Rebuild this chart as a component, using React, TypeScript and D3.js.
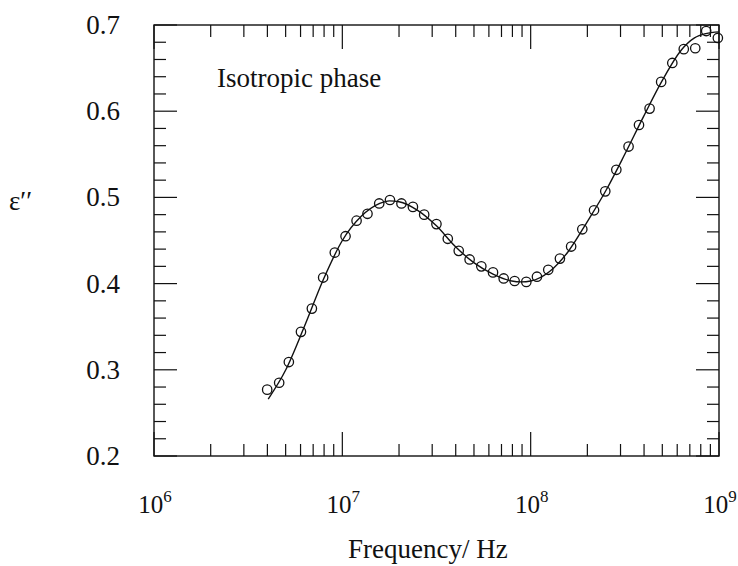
import React from "react";
import * as d3 from "d3";

// Measured data (frequency in MHz, epsilon'' loss)
const freqMHz = [
  3.99, 4.62, 5.2, 6.03, 6.89, 7.91, 9.12, 10.4, 11.9, 13.6, 15.7, 17.9, 20.6,
  23.7, 27.2, 31.6, 36.3, 41.5, 47.4, 54.7, 63.1, 71.9, 82.2, 94.8, 108, 124,
  143, 164, 188, 217, 249, 285, 331, 376, 428, 493, 565, 650, 748, 855, 986,
];
const epsLoss = [
  0.277, 0.285, 0.309, 0.344, 0.371, 0.407, 0.436, 0.455, 0.473, 0.481, 0.493,
  0.497, 0.493, 0.489, 0.48, 0.469, 0.452, 0.438, 0.428, 0.42, 0.413, 0.406,
  0.403, 0.402, 0.408, 0.416, 0.429, 0.443, 0.463, 0.485, 0.507, 0.532, 0.559,
  0.584, 0.603, 0.634, 0.656, 0.672, 0.673, 0.693, 0.685,
];

// Fitted curve (frequency in MHz, epsilon'')
const fitFreqMHz = [
  4.04, 5.01, 6.31, 7.94, 10, 12.6, 15.8, 17.8, 20, 25.1, 31.6, 39.8, 50.1,
  63.1, 79.4, 89.1, 100, 126, 158, 200, 251, 316, 398, 501, 631, 741, 851, 1000,
];
const fitEps = [
  0.266, 0.3, 0.351, 0.405, 0.45, 0.478, 0.493, 0.496, 0.495, 0.485, 0.467,
  0.443, 0.424, 0.411, 0.403, 0.402, 0.403, 0.414, 0.437, 0.472, 0.508, 0.55,
  0.594, 0.636, 0.671, 0.685, 0.69, 0.692,
];

const yTickLabels = ["0.2", "0.3", "0.4", "0.5", "0.6", "0.7"];
const xDecades = [6, 7, 8, 9];

const W = 738;
const H = 566;
const left = 154;
const right = 719;
const top = 25;
const bottom = 456;
const FONT = "Liberation Serif, Tinos, Times New Roman, serif";

export default function App() {
  const x = d3.scaleLog().domain([1e6, 1e9]).range([left, right]);
  const y = d3.scaleLinear().domain([0.2, 0.7]).range([bottom, top]);

  const line = d3
    .line<number>()
    .x((_, i) => x(fitFreqMHz[i] * 1e6))
    .y((d) => y(d))
    .curve(d3.curveMonotoneX);

  const yMinor = d3.range(0, 26).map((i) => 0.2 + i * 0.02);
  const xTicks: { v: number; major: boolean }[] = [];
  for (let e = 6; e < 9; e++) {
    for (let m = 1; m <= 9; m++) {
      xTicks.push({ v: m * Math.pow(10, e), major: m === 1 });
    }
  }
  xTicks.push({ v: 1e9, major: true });

  const stroke = "#111";
  const ts = { fontFamily: FONT } as React.CSSProperties;

  return (
    <svg
      width={W}
      height={H}
      style={{ position: "absolute", left: 0, top: 0, background: "#fff" }}
    >
      <rect x={0} y={0} width={W} height={H} fill="#fff" />
      <rect
        x={left}
        y={top}
        width={right - left}
        height={bottom - top}
        fill="none"
        stroke={stroke}
        strokeWidth={1.4}
      />
      {yMinor.map((v, i) => {
        const major = i % 5 === 0;
        const len = major ? 23 : 12;
        const yy = y(v);
        return (
          <g key={"yt" + i}>
            <line x1={left} x2={left + len} y1={yy} y2={yy} stroke={stroke} strokeWidth={1.2} />
            <line x1={right} x2={right - len} y1={yy} y2={yy} stroke={stroke} strokeWidth={1.2} />
          </g>
        );
      })}
      {xTicks.map((t, i) => {
        const len = t.major ? 24 : 12;
        const xx = x(t.v);
        return (
          <g key={"xt" + i}>
            <line x1={xx} x2={xx} y1={bottom} y2={bottom - len} stroke={stroke} strokeWidth={1.2} />
            <line x1={xx} x2={xx} y1={top} y2={top + len} stroke={stroke} strokeWidth={1.2} />
          </g>
        );
      })}
      {yTickLabels.map((lab) => (
        <text
          key={"yl" + lab}
          x={120}
          y={y(+lab) + 9}
          textAnchor="end"
          fontSize={27}
          fill={stroke}
          style={ts}
        >
          {lab}
        </text>
      ))}
      {xDecades.map((e) => (
        <text
          key={"xl" + e}
          x={x(Math.pow(10, e)) + 1}
          y={513}
          textAnchor="middle"
          fontSize={25}
          fill={stroke}
          style={ts}
        >
          10
          <tspan dy={-11} fontSize={17}>
            {e}
          </tspan>
        </text>
      ))}
      <text x={348} y={558} fontSize={27} fill={stroke} style={ts}>
        Frequency/ Hz
      </text>
      <text x={9} y={210} fontSize={27} fill={stroke} style={ts}>
        ε′′
      </text>
      <text x={217} y={87} fontSize={27} fill={stroke} style={ts}>
        Isotropic phase
      </text>
      <path d={line(fitEps) || ""} fill="none" stroke={stroke} strokeWidth={1.4} />
      {epsLoss.map((v, i) => (
        <circle
          key={"p" + i}
          cx={x(freqMHz[i] * 1e6)}
          cy={y(v)}
          r={4.7}
          fill="none"
          stroke={stroke}
          strokeWidth={1.3}
        />
      ))}
    </svg>
  );
}
